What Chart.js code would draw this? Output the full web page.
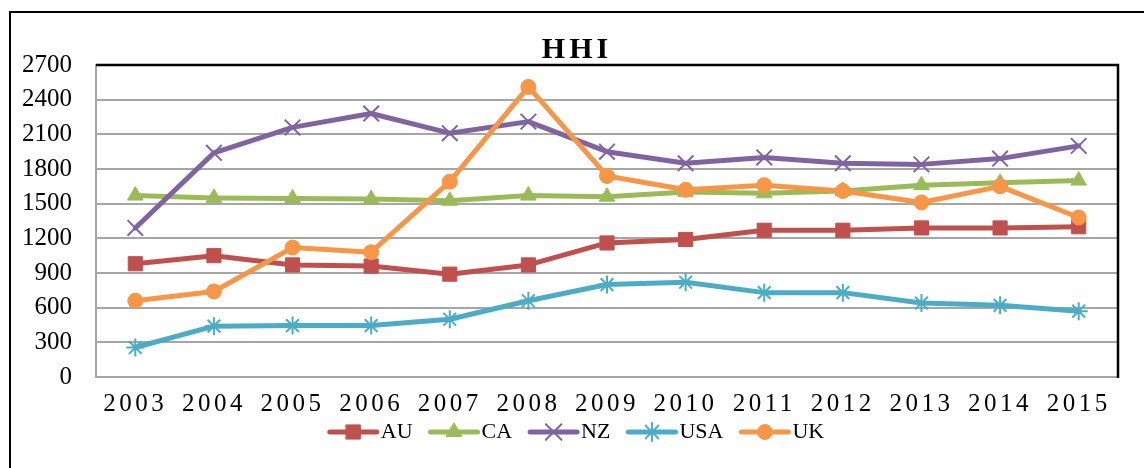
<!DOCTYPE html>
<html>
<head>
<meta charset="utf-8">
<script src="https://cdn.jsdelivr.net/npm/chart.js@4.4.0/dist/chart.umd.min.js"></script>
<style>
  html, body { margin: 0; padding: 0; background: #fff; }
  #wrap { width: 1144px; height: 468px; position: relative; }
</style>
</head>
<body>
<div id="wrap"><canvas id="c"></canvas></div>
<script>
// Categories
const years = ['2003','2004','2005','2006','2007','2008','2009','2010','2011','2012','2013','2014','2015'];

// Series values (HHI)
const au  = [980, 1050, 970, 960, 890, 970, 1160, 1190, 1270, 1270, 1290, 1290, 1300];
const ca  = [1570, 1550, 1545, 1540, 1525, 1570, 1560, 1600, 1590, 1610, 1660, 1680, 1700];
const nz  = [1290, 1940, 2160, 2280, 2110, 2210, 1950, 1850, 1900, 1850, 1840, 1890, 2000];
const usa = [255, 440, 445, 445, 500, 660, 800, 820, 730, 730, 640, 620, 570];
const uk  = [660, 740, 1120, 1080, 1690, 2510, 1740, 1620, 1660, 1610, 1510, 1650, 1380];

const seriesNames  = ['AU', 'CA', 'NZ', 'USA', 'UK'];
const seriesValues = [au, ca, nz, usa, uk];

// Value axis ticks
const yMin = 0, yMax = 2700, yStep = 300;

// Styling
const seriesColors = ['#C0504D', '#9BBB59', '#8064A2', '#4BACC6', '#F79646'];
const markerStyles = ['rect', 'triangle', 'crossRot', 'star', 'circle'];
const markerRadius = [10, 9, 11, 9, 7.5];
const markerBorder = [1, 1, 2, 2, 1];
const FONT = "'Times New Roman', 'Liberation Serif', serif";
const GRID = '#a6a6a6';
const LEGEND_BOX = 40, LEGEND_FONT = 22;

const framePlugin = {
  id: 'frame',
  beforeDraw(chart) {
    const ctx = chart.ctx;
    ctx.save();
    ctx.fillStyle = '#fff';
    ctx.fillRect(0, 0, chart.width, chart.height);
    // outer border (left and top edges)
    ctx.strokeStyle = '#000';
    ctx.lineWidth = 2;
    ctx.beginPath();
    ctx.moveTo(10, chart.height);
    ctx.lineTo(10, 12);
    ctx.lineTo(chart.width, 12);
    ctx.stroke();
    ctx.restore();

    // tick labels may extend past their axis boxes: draw them unclipped
    ['x', 'y'].forEach(id => {
      const s = chart.scales[id];
      if (s && !s.__open) {
        s._computeLabelArea = () => undefined;
        s.__open = true;
      }
    });

    // spaced lettering for category labels and the title
    const xs = chart.scales.x;
    if (xs && !xs.__spaced) {
      const orig = xs.drawLabels;
      xs.drawLabels = function (area) {
        this.ctx.save();
        this.ctx.letterSpacing = '3.5px';
        orig.call(this, area);
        this.ctx.restore();
      };
      xs.__spaced = true;
    }
    const tb = chart.titleBlock;
    if (tb && !tb.__spaced) {
      const origT = tb.draw;
      tb.draw = function () {
        this.ctx.save();
        this.ctx.letterSpacing = '4px';
        origT.call(this);
        this.ctx.restore();
      };
      tb.__spaced = true;
    }
  },
  beforeDatasetsDraw(chart) {
    const { ctx, chartArea: a } = chart;
    ctx.save();
    ctx.strokeStyle = '#000';
    ctx.lineWidth = 2.5;
    ctx.beginPath();
    ctx.moveTo(a.left, a.top);
    ctx.lineTo(a.right, a.top);
    ctx.lineTo(a.right, a.bottom + 1);
    ctx.stroke();
    ctx.restore();
  },
  afterDraw(chart) {
    // legend samples: line with marker
    const ctx = chart.ctx;
    const lg = chart.legend;
    if (!lg || !lg.legendHitBoxes) return;
    lg.legendHitBoxes.forEach((hb, i) => {
      const tx = hb.left + LEGEND_BOX + LEGEND_FONT / 2;
      const cy = hb.top + hb.height / 2;
      const x1 = tx - 4, x0 = x1 - 47;
      ctx.save();
      ctx.strokeStyle = seriesColors[i];
      ctx.fillStyle = seriesColors[i];
      ctx.lineWidth = 5;
      ctx.lineCap = 'round';
      ctx.beginPath();
      ctx.moveTo(x0, cy);
      ctx.lineTo(x1, cy);
      ctx.stroke();
      ctx.lineWidth = markerBorder[i];
      if (Chart.helpers && Chart.helpers.drawPoint) {
        Chart.helpers.drawPoint(ctx, {
          pointStyle: markerStyles[i],
          radius: markerRadius[i],
          rotation: 0,
          borderWidth: markerBorder[i]
        }, (x0 + x1) / 2, cy);
      }
      ctx.restore();
    });
  }
};

new Chart(document.getElementById('c'), {
  type: 'line',
  data: {
    labels: years,
    datasets: seriesNames.map((name, i) => ({
      label: name,
      data: seriesValues[i],
      borderColor: seriesColors[i],
      backgroundColor: seriesColors[i],
      borderWidth: 5,
      borderCapStyle: 'round',
      borderJoinStyle: 'round',
      pointStyle: markerStyles[i],
      pointRadius: markerRadius[i],
      pointHoverRadius: markerRadius[i],
      pointBorderWidth: markerBorder[i],
      pointBackgroundColor: seriesColors[i],
      pointBorderColor: seriesColors[i],
      tension: 0,
      order: seriesNames.length - i
    }))
  },
  options: {
    responsive: true,
    maintainAspectRatio: false,
    animation: false,
    devicePixelRatio: 1,
    layout: { padding: { left: 36, right: 26, top: 33, bottom: 15 } },
    plugins: {
      title: {
        display: true,
        text: 'HHI',
        color: '#000',
        font: { family: FONT, size: 30, weight: 'bold', lineHeight: 1 },
        padding: { top: 2, bottom: 0 }
      },
      legend: {
        position: 'bottom',
        labels: {
          color: '#000',
          font: { family: FONT, size: LEGEND_FONT },
          boxWidth: LEGEND_BOX,
          padding: 18,
          generateLabels() {
            return seriesNames.map((n, i) => ({
              text: n,
              fillStyle: 'rgba(0,0,0,0)',
              strokeStyle: 'rgba(0,0,0,0)',
              lineWidth: 0,
              hidden: false,
              datasetIndex: i,
              fontColor: '#000'
            }));
          }
        }
      },
      tooltip: { enabled: false }
    },
    scales: {
      x: {
        type: 'category',
        offset: true,
        grid: { display: false },
        border: { color: GRID, width: 2 },
        ticks: {
          color: '#000',
          font: { family: FONT, size: 25 },
          padding: 4,
          maxRotation: 0,
          autoSkip: false
        },
        afterFit(s) { s.height = 26; }
      },
      y: {
        min: yMin,
        max: yMax,
        grid: { color: GRID, lineWidth: 2, drawTicks: false },
        border: { color: GRID, width: 2 },
        ticks: {
          stepSize: yStep,
          color: '#000',
          font: { family: FONT, size: 25 },
          padding: 24,
          callback: v => String(v)
        },
        afterFit(s) { s.width = 60; }
      }
    }
  },
  plugins: [framePlugin]
});
</script>
</body>
</html>
